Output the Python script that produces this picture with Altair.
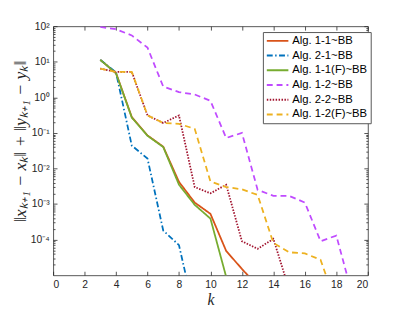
import altair as alt
import pandas as pd

series = ["Alg. 1-1~BB", "Alg. 2-1~BB", "Alg. 1-1(F)~BB", "Alg. 1-2~BB", "Alg. 2-2~BB", "Alg. 1-2(F)~BB"]
colors = ["#D95319", "#0072BD", "#77AC30", "#C04BFF", "#A2142F", "#EDB120"]
dashes = [[1, 0], [6, 2.5, 1.5, 2.5], [1, 0], [6, 4], [1.5, 1.5], [6, 4]]

start_k = 3
alg11 = [11.3, 4.8, 0.28, 0.085, 0.041, 0.0042, 0.0011, 5.3e-4, 4.8e-5, 1.5e-5, 5e-6]
alg21 = [11.3, 5.0, 0.044, 0.019, 1.8e-4, 7e-5, 8e-7]
alg11f = [11.3, 4.7, 0.27, 0.083, 0.040, 0.0035, 9.5e-4, 3.9e-4, 9e-6]
alg12 = [95, 82, 55, 25, 2.0, 1.4, 1.2, 0.8, 0.072, 0.1, 0.0025, 0.0017, 0.0017, 0.0011, 9e-5, 1.3e-4, 3e-6]
alg22 = [6.4, 5.2, 5.2, 0.31, 0.19, 0.31, 3e-3, 2e-3, 3.5e-3, 9e-5, 5.5e-5, 1.05e-4, 4e-6]
alg12f = [6.4, 5.2, 5.2, 0.31, 0.19, 0.18, 0.13, 4.3e-3, 3.0e-3, 2.6e-3, 1.8e-3, 8e-5, 4.4e-5, 4.1e-5, 2.7e-5, 1.5e-6]

x_ticks = list(range(0, 21, 2))
y_ticks = [1e-4, 1e-3, 1e-2, 1e-1, 1, 10, 100]
y_minor = [m * 10.0 ** e for e in range(-5, 2) for m in range(2, 10)]

rows = []
for name, vals in zip(series, [alg11, alg21, alg11f, alg12, alg22, alg12f]):
    for i, v in enumerate(vals):
        rows.append({"k": start_k + i, "err": v, "alg": name})
df = pd.DataFrame(rows)

TXT = "#262626"
xscale = alt.Scale(domain=[0, 20], nice=False, zero=False)
yscale = alt.Scale(type="log", domain=[1e-5, 100], nice=False)

label_expr = ("round(log(datum.value)/LN10) == 2 ? '10²' : round(log(datum.value)/LN10) == 1 ? '10¹' : "
              "round(log(datum.value)/LN10) == 0 ? '10⁰' : round(log(datum.value)/LN10) == -1 ? '10⁻¹' : "
              "round(log(datum.value)/LN10) == -2 ? '10⁻²' : round(log(datum.value)/LN10) == -3 ? '10⁻³' : "
              "round(log(datum.value)/LN10) == -4 ? '10⁻⁴' : ''")

leg = alt.Legend(title=None, orient="none", legendX=214, legendY=6,
                 fillColor="white", strokeColor="#555555", padding=3,
                 labelFont="Liberation Sans", labelFontSize=11.5, labelColor="black",
                 symbolType="stroke", symbolSize=484, symbolStrokeWidth=2,
                 labelOffset=3, rowPadding=3, clipHeight=12)

base = alt.Chart(df)

lines = base.mark_line(strokeWidth=1.8, clip=True).encode(
    x=alt.X("k:Q", scale=xscale, axis=alt.Axis(
        values=x_ticks, ticks=False, domain=False, grid=False,
        labelFont="Liberation Sans", labelFontSize=10.5, labelColor=TXT, labelPadding=5,
        title="k", titleFont="Liberation Serif", titleFontStyle="italic", titleFontWeight="normal",
        titleFontSize=16, titleColor=TXT, titleY=25, titleBaseline="middle")),
    y=alt.Y("err:Q", scale=yscale, axis=alt.Axis(
        values=y_ticks, labelExpr=label_expr, ticks=False, domain=False, grid=False,
        labelFont="Liberation Sans", labelFontSize=10.5, labelColor=TXT, labelPadding=4,
        title="‖xₖ₊₁ − xₖ‖  +  ‖yₖ₊₁ − yₖ‖", titleFont="Liberation Serif", titleFontStyle="italic",
        titleFontWeight="normal", titleFontSize=18, titleColor=TXT,
        titleAngle=270, titleX=-33, titleY=117, titleBaseline="middle", titleAlign="center")),
    color=alt.Color("alg:N", scale=alt.Scale(domain=series, range=colors), legend=leg),
    strokeDash=alt.StrokeDash("alg:N", scale=alt.Scale(domain=series, range=dashes), legend=leg),
)


def tick_layer(xaxis, yaxis):
    return base.mark_point(opacity=0).encode(
        x=alt.X("k:Q", scale=xscale, axis=xaxis),
        y=alt.Y("err:Q", scale=yscale, axis=yaxis),
    )


def tick_axis(orient, values, size):
    return alt.Axis(orient=orient, values=values, labels=False, domain=False, grid=False,
                    tickSize=size, offset=-size, tickColor=TXT, tickWidth=0.8, title=None)


t1 = tick_layer(tick_axis("top", x_ticks, 4), tick_axis("right", y_ticks, 4))
t2 = tick_layer(tick_axis("bottom", x_ticks, 4), tick_axis("left", y_ticks, 4))
t3 = tick_layer(None, tick_axis("left", y_minor, 2))
t4 = tick_layer(None, tick_axis("right", y_minor, 2))

chart = alt.layer(lines, t1, t2, t3, t4).resolve_axis(
    x="independent", y="independent"
).properties(
    width=321, height=254,
    autosize=alt.AutoSizeParams(type="none"),
    padding={"left": 46, "top": 15.5, "right": 40, "bottom": 34},
).configure_view(stroke="#555555", strokeWidth=1)

chart.save("out.html", embed_options={"renderer": "svg", "actions": False})
